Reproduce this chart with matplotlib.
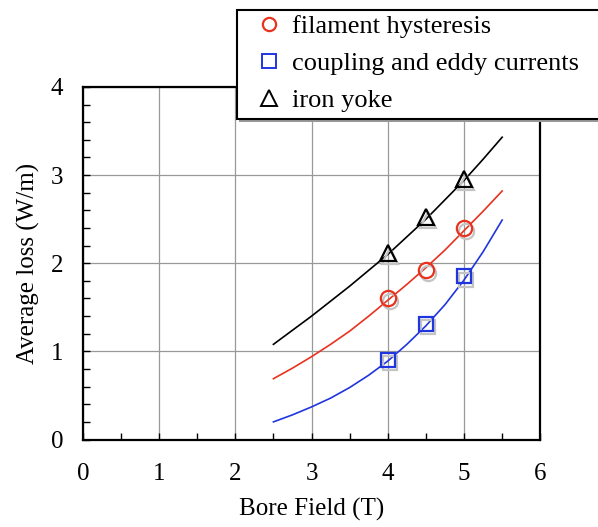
import matplotlib
matplotlib.use('Agg')
import matplotlib.pyplot as plt
import matplotlib.transforms as mtransforms
from matplotlib.patches import Rectangle
from matplotlib.lines import Line2D
from matplotlib.ticker import MultipleLocator

plt.rcParams['font.family'] = ['Liberation Serif', 'DejaVu Serif']

# measured points
field_pts = [4.0, 4.5, 5.0]
hyst_pts = [1.61, 1.92, 2.40]
eddy_pts = [0.90, 1.31, 1.85]
yoke_pts = [2.12, 2.52, 2.96]

# fitted curves
field_curve = [2.5, 2.75, 3.0, 3.25, 3.5, 3.75, 4.0, 4.25, 4.5, 4.75, 5.0, 5.25, 5.5]
hyst_curve = [0.69, 0.81, 0.94, 1.08, 1.23, 1.40, 1.58, 1.76, 1.95, 2.15, 2.37, 2.59, 2.82]
eddy_curve = [0.20, 0.28, 0.37, 0.47, 0.59, 0.73, 0.89, 1.08, 1.29, 1.53, 1.81, 2.13, 2.49]
yoke_curve = [1.08, 1.24, 1.40, 1.57, 1.74, 1.92, 2.10, 2.30, 2.50, 2.72, 2.94, 3.18, 3.43]

labels = ['filament hysteresis', 'coupling and eddy currents', 'iron yoke']
red = '#e8321e'
blue = '#1f35e0'

fig = plt.figure(figsize=(5.98, 5.27), dpi=100)
ax = fig.add_axes([0.1385, 0.166, 0.765, 0.669])

ax.plot(field_curve, yoke_curve, color='black', lw=1.2, zorder=3)
ax.plot(field_curve, hyst_curve, color=red, lw=1.2, zorder=3)
ax.plot(field_curve, eddy_curve, color=blue, lw=1.2, zorder=3)

# marker style per series: (values, marker, size, colour)
series = [(yoke_pts, '^', 12, 'black'), (hyst_pts, 'o', 11, red), (eddy_pts, 's', 10.5, blue)]

# grey drop shadow behind the markers
shadow = mtransforms.offset_copy(ax.transData, fig=fig, x=1.5, y=-2.2, units='points')
for ys, m, size, c in series:
    ax.plot(field_pts, ys, ls='none', marker=m, ms=size, mfc='none', mec='#c4c4c4',
            mew=1.6, transform=shadow, zorder=3.5)
for ys, m, size, c in series:
    ax.plot(field_pts, ys, ls='none', marker=m, ms=size, mfc='none', mec=c, mew=1.6, zorder=4)

ax.set_xlim(0, 6)
ax.set_ylim(0, 4)
ax.xaxis.set_major_locator(MultipleLocator(1))
ax.xaxis.set_minor_locator(MultipleLocator(0.5))
ax.yaxis.set_major_locator(MultipleLocator(1))
ax.yaxis.set_minor_locator(MultipleLocator(0.2))
ax.grid(True, which='major', color='#999999', lw=0.9)
ax.tick_params(which='both', direction='in', top=False, right=False, labelsize=18)
ax.tick_params(which='major', length=5, width=1)
ax.tick_params(which='minor', length=5, width=1)
ax.tick_params(axis='x', pad=17)
ax.tick_params(axis='y', pad=14)
for s in ax.spines.values():
    s.set_linewidth(1.6)

ax.set_xlabel('Bore Field (T)', fontsize=18, labelpad=9)
ax.set_ylabel('Average loss (W/m)', fontsize=18, labelpad=8)

# legend box, runs off the right edge of the figure
W, H = 598.0, 527.0
fig.patches.append(Rectangle((239 / W, 1 - 122 / H), 400 / W, 112 / H, transform=fig.transFigure,
                             facecolor='#999999', edgecolor='none', zorder=5))
fig.patches.append(Rectangle((237 / W, 1 - 119 / H), 400 / W, 109 / H, transform=fig.transFigure,
                             facecolor='white', edgecolor='black', lw=1.5, zorder=5.5))

handles = [
    Line2D([], [], ls='none', marker='o', ms=9.5, mfc='none', mec=red, mew=1.6),
    Line2D([], [], ls='none', marker='s', ms=10, mfc='none', mec=blue, mew=1.4),
    Line2D([], [], ls='none', marker='^', ms=11, mfc='none', mec='black', mew=1.4),
]
leg = fig.legend(handles, labels, loc='upper left', bbox_to_anchor=(256 / W, 1 - 15 / H),
                 frameon=False, fontsize=19, handlelength=1.0, handletextpad=0.35,
                 labelspacing=0.5, borderpad=0, borderaxespad=0)
leg.set_zorder(6)

fig.savefig('out.png', dpi=100)
